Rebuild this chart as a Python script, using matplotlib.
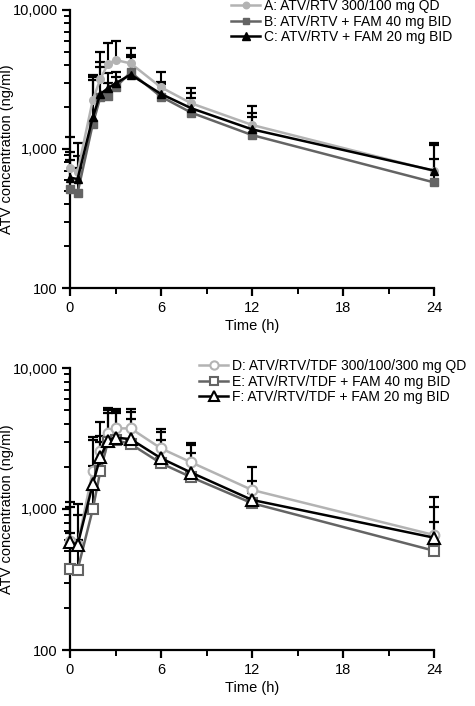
import matplotlib
matplotlib.use("Agg")
import matplotlib.pyplot as plt
from matplotlib.ticker import FixedLocator, FuncFormatter, LogLocator, NullFormatter
import numpy as np

plt.rcParams['font.family'] = ['Liberation Sans', 'DejaVu Sans']

time_h = [0, 0.5, 1.5, 2, 2.5, 3, 4, 6, 8, 12, 24]

# Top panel
labels_top = ["A: ATV/RTV 300/100 mg QD", "B: ATV/RTV + FAM 40 mg BID", "C: ATV/RTV + FAM 20 mg BID"]
mean_A = [726, 687, 2250, 3190, 4090, 4370, 4130, 2780, 2130, 1490, 695]
mean_B = [513, 485, 1510, 2355, 2400, 2780, 3560, 2380, 1825, 1260, 575]
mean_C = [622, 608, 1690, 2490, 2735, 2970, 3425, 2490, 1963, 1385, 700]
upper_A = [1220, 1110, 3400, 4960, 5760, 6010, 5300, 3600, 2750, 2040, 1110]
upper_B = [834, 730, 3130, 3900, 3000, 3300, 4600, 2950, 2330, 1700, 843]
upper_C = [950, 896, 3280, 4250, 3500, 3600, 4740, 3050, 2530, 1815, 1070]

# Bottom panel
labels_bot = ["D: ATV/RTV/TDF 300/100/300 mg QD", "E: ATV/RTV/TDF + FAM 40 mg BID", "F: ATV/RTV/TDF + FAM 20 mg BID"]
mean_D = [590, 560, 1860, 2590, 3480, 3730, 3730, 2690, 2140, 1365, 654]
mean_E = [375, 370, 995, 1860, 3000, 3080, 2890, 2110, 1680, 1100, 506]
mean_F = [583, 556, 1500, 2330, 3050, 3210, 3130, 2290, 1810, 1160, 626]
upper_D = [1127, 1085, 3260, 4120, 5180, 5100, 5100, 3670, 2950, 1975, 1222]
upper_E = [673, 600, 2020, 3000, 4800, 4820, 4330, 3080, 2480, 1300, 805]
upper_F = [1038, 906, 3080, 3300, 5040, 4950, 4900, 3530, 2840, 1590, 1038]

light = '#b3b3b3'
dark = '#646464'
black = '#000000'

W, H = 475, 706
fig = plt.figure(figsize=(W / 100, H / 100), dpi=100)

def px_axes(x0, y0, x1, y1):
    return fig.add_axes([x0 / W, 1 - y1 / H, (x1 - x0) / W, (y1 - y0) / H])

ax_top = px_axes(70, 10, 434, 288)
ax_bot = px_axes(70, 368, 434, 650)

def style(ax):
    ax.set_yscale('log')
    ax.set_ylim(100, 10000)
    ax.set_xlim(0, 24)
    for s in ['top', 'right']:
        ax.spines[s].set_visible(False)
    for s in ['left', 'bottom']:
        ax.spines[s].set_linewidth(1.6)
    ax.xaxis.set_major_locator(FixedLocator([0, 6, 12, 18, 24]))
    ax.xaxis.set_minor_locator(FixedLocator([3, 9, 15, 21]))
    ax.yaxis.set_major_locator(FixedLocator([100, 1000, 10000]))
    ax.yaxis.set_minor_locator(LogLocator(base=10, subs=np.arange(2, 10)))
    ax.yaxis.set_minor_formatter(NullFormatter())
    ax.yaxis.set_major_formatter(FuncFormatter(lambda v, p: f"{int(round(v)):,}"))
    ax.tick_params(axis='both', which='major', direction='out', length=6, width=1.6, labelsize=10.5, pad=3)
    ax.tick_params(axis='both', which='minor', direction='out', length=4, width=1.4)
    ax.set_xlabel('Time (h)', fontsize=10.5, labelpad=3)
    ax.set_ylabel('ATV concentration (ng/ml)', fontsize=10.5)
    ax.yaxis.set_label_coords(-56 / 364, 0.5)

def errbars(ax, means, uppers):
    for m, u in zip(means, uppers):
        ax.vlines(time_h, m, u, colors=black, linewidth=1.5, zorder=1, clip_on=False)
        ax.plot(time_h, u, linestyle='none', marker='_', markersize=7, markeredgewidth=1.6,
                color=black, zorder=1, clip_on=False)

style(ax_top)
style(ax_bot)

errbars(ax_top, [mean_A, mean_B, mean_C], [upper_A, upper_B, upper_C])
errbars(ax_bot, [mean_D, mean_E, mean_F], [upper_D, upper_E, upper_F])

ax_top.plot(time_h, mean_A, color=light, marker='o', markersize=5.5, linewidth=1.8, label=labels_top[0], zorder=3, clip_on=False)
ax_top.plot(time_h, mean_B, color=dark, marker='s', markersize=5.5, linewidth=1.8, label=labels_top[1], zorder=4, clip_on=False)
ax_top.plot(time_h, mean_C, color=black, marker='^', markersize=6, linewidth=1.8, label=labels_top[2], zorder=5, clip_on=False)

ax_bot.plot(time_h, mean_D, color=light, marker='o', markersize=7, markerfacecolor='white', markeredgewidth=1.5,
            linewidth=1.8, label=labels_bot[0], zorder=3, clip_on=False)
ax_bot.plot(time_h, mean_E, color=dark, marker='s', markersize=6.5, markerfacecolor='white', markeredgewidth=1.5,
            linewidth=1.8, label=labels_bot[1], zorder=4, clip_on=False)
ax_bot.plot(time_h, mean_F, color=black, marker='^', markersize=8, markerfacecolor='white', markeredgewidth=1.5,
            linewidth=1.8, label=labels_bot[2], zorder=5, clip_on=False)

def legend(ax, x_px, y_px):
    ax.legend(loc='upper left', bbox_to_anchor=(x_px / W, 1 - y_px / H), bbox_transform=fig.transFigure,
              frameon=False, fontsize=10, handlelength=2.1, handletextpad=0.25, labelspacing=0.12,
              borderpad=0, borderaxespad=0, markerscale=0.85)

legend(ax_top, 231, -1)
legend(ax_bot, 199, 359)

fig.savefig('out.png', dpi=100)
